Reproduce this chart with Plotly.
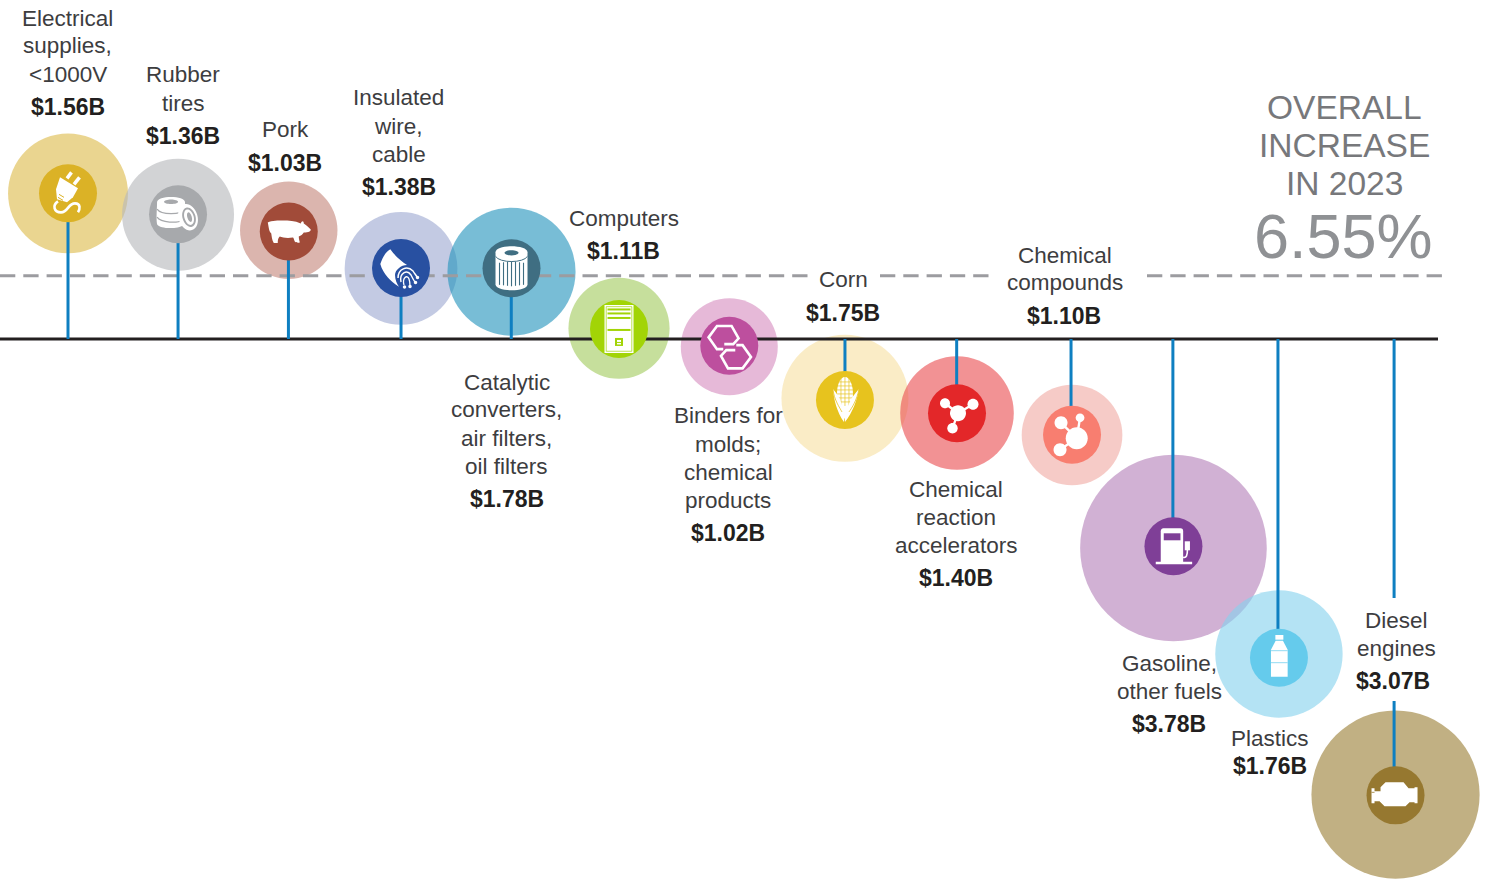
"""Bubble-on-stem chart of 2023 export increases, by product."""
import math

import plotly.graph_objects as go

# ── Data ───────────────────────────────────────────────────────────────────
products = [
    ["Electrical", "supplies,", "<1000V"],
    ["Rubber", "tires"],
    ["Pork"],
    ["Insulated", "wire,", "cable"],
    ["Catalytic", "converters,", "air filters,", "oil filters"],
    ["Computers"],
    ["Binders for", "molds;", "chemical", "products"],
    ["Corn"],
    ["Chemical", "reaction", "accelerators"],
    ["Chemical", "compounds"],
    ["Gasoline,", "other fuels"],
    ["Plastics"],
    ["Diesel", "engines"],
]
value_billions = [1.56, 1.36, 1.03, 1.38, 1.78, 1.11, 1.02, 1.75, 1.40, 1.10, 3.78, 1.76, 3.07]
slot = [0, 0.995, 1.996, 3.011, 4.010, 4.982, 5.979, 7.025, 8.038, 9.078, 9.995, 10.949, 12.003]
stem_slot = [0, 0.995, 1.993, 3.011, 4.008, 4.982, 5.979, 7.025, 8.035, 9.069, 9.99, 10.94, 11.99]
pct_change = [15.08, 12.92, 11.13, 7.35, 7.32, 1.04, -0.69, -6.31, -7.68, -9.92, -21.46, -32.99, -47.24]
bubble_pct = [15.08, 12.87, 11.25, 7.30, 6.97, 1.11, -0.81, -6.14, -7.66, -9.94, -21.64, -32.61, -47.16]
overall_pct = 6.55

# ── Styles ─────────────────────────────────────────────────────────────────
W, H = 1488, 880
PX_PER_SLOT = 110.6
PX_PER_PCT = 9.66
ZERO_LEFT = 68
ZERO_TOP = 339

HALO = ["#EAD590", "#D2D3D5", "#DBB5AE", "#C3CAE3", "#78BDD6", "#C6DF9C", "#E6B9D8",
        "#FAECC6", "#F29294", "#F6CBC7", "#D1B1D4", "#B4E3F4", "#C1B083"]
CORE = ["#DBB226", "#A7A9AC", "#A14B39", "#2850A1", "#3F6E82", "#A2D406", "#BD4F9E",
        "#E7C31E", "#E32729", "#F87E70", "#7F3F97", "#65CBEC", "#967830"]
HALO_ALPHA = 0.62
STEM = "#0E7FC1"
DASH = "#9C9CA0"
INK = "#231F20"
TEXT = "#3D3D3F"
FONT = "Liberation Sans"

# (centre x, first line y) of each product label, in page pixels
LABEL_AT = [(67.5, 18), (183, 75), (285, 130), (398.5, 98), (507, 382), (623.5, 218), (728, 416),
            (843, 280), (956, 489), (1064.5, 255), (1169, 663), (1270, 738), (1396, 620)]
VALUE_X_NUDGE = [0, 0, 0, 0, 0, 0, 0, 0, 0, -0.5, 0, 0, -3]
LINE_GAP = 28
VALUE_GAP = [33, 33, 33, 33, 33, 33, 33, 33, 33, 33, 33, 28, 33]


def x_of(px):
    return (px - ZERO_LEFT) / PX_PER_SLOT


def y_of(px):
    return (ZERO_TOP - px) / PX_PER_PCT


def see_through(hex_color):
    """Colour that looks like hex_color on white when drawn at HALO_ALPHA."""
    rgb = [int(hex_color[i:i + 2], 16) for i in (1, 3, 5)]
    src = [max(0, round(255 - (255 - c) / HALO_ALPHA)) for c in rgb]
    return f"rgba({src[0]},{src[1]},{src[2]},{HALO_ALPHA})"


# ── Icon drawing helpers (local pixels, y pointing down) ───────────────────
def poly(*pts, close=True):
    d = "M" + " L".join(f"{x:.2f},{-y:.2f}" for x, y in pts)
    return d + (" Z" if close else "")


def curve(start, *segs, close=False):
    d = f"M{start[0]:.2f},{-start[1]:.2f}"
    for s in segs:
        d += " C" + " ".join(f"{x:.2f},{-y:.2f}" for x, y in s)
    return d + (" Z" if close else "")


def ellipse(cx, cy, rx, ry=None, deg=0):
    ry = rx if ry is None else ry
    k = 0.5523
    a = math.radians(deg)

    def rot(x, y):
        return (cx + x * math.cos(a) - y * math.sin(a), cy + x * math.sin(a) + y * math.cos(a))

    return curve(
        rot(rx, 0),
        [rot(rx, k * ry), rot(k * rx, ry), rot(0, ry)],
        [rot(-k * rx, ry), rot(-rx, k * ry), rot(-rx, 0)],
        [rot(-rx, -k * ry), rot(-k * rx, -ry), rot(0, -ry)],
        [rot(k * rx, -ry), rot(rx, -k * ry), rot(rx, 0)],
        close=True,
    )


def rect(x0, y0, x1, y1):
    return poly((x0, y0), (x1, y0), (x1, y1), (x0, y1))


# Each icon: list of (kind, path, colour key, stroke width); "core" paints with the disc colour
ICONS = [
    # plug
    [("fill", poly((-8, -16), (10, -5), (5, 4), (-1, 9), (-11, 6), (-12, -4)), "white", 0),
     ("line", poly((-1, -15), (3.5, -21), close=False), "white", 3.5),
     ("line", poly((6, -9), (11.5, -16), close=False), "white", 3.5),
     ("line", poly((-9, 1), (-4, 4), close=False), "core", 1),
     ("line", poly((-10, 4), (-5, 7), close=False), "core", 1),
     ("line", curve((-10, 8), [(-16, 12), (-14, 19), (-7, 19)], [(0, 19), (0, 10), (7, 10)],
                    [(13, 10), (12, 16), (10, 19)]), "white", 2.6)],
    # tires
    [("fill", curve((-21, -12), [(-21, -19), (7, -19), (7, -12)], [(7, -6), (7, 6), (5, 11)],
                    [(0, 15), (-18, 15), (-21, 10)], [(-22, 4), (-21, -6), (-21, -12)], close=True), "white", 0),
     ("line", curve((-21, -5), [(-17, 1), (3, 1), (7, -5)]), "core", 1.2),
     ("line", curve((-21, 3), [(-17, 9), (0, 9), (4, 6)]), "core", 1.2),
     ("fill", ellipse(-7, -12.5, 7, 2.3), "core", 0),
     ("fill", ellipse(10, 3, 9.5, 13.5, -17), "white", 0),
     ("fill", ellipse(11, 3, 6.5, 10, -17), "core", 0),
     ("fill", ellipse(11, 3, 4.6, 8, -17), "white", 0),
     ("fill", ellipse(11.5, 3, 2.2, 5, -17), "core", 0)],
    # pig
    [("fill", curve((-21, -9), [(-17, -11), (-10, -11), (-6, -11)], [(0, -11), (6, -11), (12, -8)],
                    [(13, -11), (15, -11), (15, -8)], [(18, -6), (20, -4), (22, -2)],
                    [(22, 0), (20, 1), (15, 1)], [(14, 3), (12, 4), (10, 5)],
                    [(10, 8), (11, 10), (11, 11)], [(9, 11.5), (7, 11), (6, 10)],
                    [(5, 8), (5, 6), (4, 6)], [(-2, 7), (-6, 6), (-9, 5)],
                    [(-11, 7), (-11, 9), (-11, 11.5)], [(-13, 11.5), (-15, 11.5), (-15, 11.5)],
                    [(-17, 8), (-17, 5), (-17.5, 2)], [(-20, 0), (-20, -5), (-21, -9)], close=True), "white", 0)],
    # insulated wire
    [("fill", curve((-20.7, -4), [(-18, -12), (-15, -16), (-10.7, -18.7)], [(-6, -12), (0, -7), (6, -3)],
                    [(0, -3), (-6, 2), (-6, 7)], [(-6, 12), (-4, 16), (-2, 18.7)],
                    [(-10, 14), (-18, 6), (-20.7, -4)], close=True), "white", 0),
     ("line", curve((-3, 10), [(-3, 1), (6, -3), (12, 3)], [(13, 5), (15, 7), (16, 9)]), "white", 1.5),
     ("line", curve((0, 14), [(-2, 5), (6, 1), (10, 7)], [(11, 9), (13, 13), (14, 14)]), "white", 1.4),
     ("line", curve((3, 17), [(1, 10), (6, 6), (8, 11)], [(9, 14), (9, 16), (9, 18)]), "white", 1.3),
     ("fill", ellipse(16.5, 9.5, 1.7), "white", 0),
     ("fill", ellipse(14.5, 14.5, 1.7), "white", 0),
     ("fill", ellipse(9, 18.5, 1.7), "white", 0),
     ("fill", ellipse(3.5, 19, 1.7), "white", 0)],
    # filter
    [("fill", curve((-16, -16), [(-16, -24), (16, -24), (16, -16)], [(16, -8), (16, 8), (16, 16)],
                    [(16, 24), (-16, 24), (-16, 16)], [(-16, 8), (-16, -8), (-16, -16)], close=True), "white", 0),
     ("fill", ellipse(0, -15.5, 7, 2.6), "core", 0),
     ("line", curve((-16, -12), [(-12, -5), (12, -5), (16, -12)]), "core", 1)]
    + [("line", poly((x, -7 + abs(x) * 0.12), (x, 18 - abs(x) * 0.12), close=False), "core", 1.1)
       for x in (-12, -8, -4, 0, 4, 8, 12)],
    # computer tower
    [("fill", rect(-14.5, -24, 14.5, 24), "white", 0),
     ("line", rect(-12.8, -22.3, 12.8, 22.3), "core", 0.7),
     ("fill", rect(-11.5, -20.5, 11.5, -18.5), "core", 0),
     ("fill", rect(-11.5, -16.5, 11.5, -14.5), "core", 0),
     ("fill", rect(-11.5, -12, 11.5, -10), "core", 0),
     ("fill", rect(-11.5, 0, 11.5, 2), "core", 0),
     ("fill", rect(-4, 9, 4, 17), "core", 0),
     ("fill", rect(-2, 11, 2, 13), "white", 0),
     ("fill", rect(-2, 14, 2, 15.5), "white", 0)],
    # linked hexagons
    [("line", poly((-6, 3.5), (-12.3, 3.5), (-20.7, -8.3), (-12.3, -19.7), (2.3, -19.7), (9.3, -7.3),
                   (4, -1.5), (-5, -1.5), close=False), "white", 2.6),
     ("line", poly((7, -0.5), (13.3, -0.5), (21.7, 11.3), (13.3, 22.7), (-1.3, 22.7), (-8.3, 10.3),
                   (-3, 4.5), (6, 4.5), close=False), "white", 2.6)],
    # corn
    [("fill", curve((0, -23), [(5, -23), (8, -15), (8, -6)], [(8, 2), (5, 14), (0, 19)],
                    [(-5, 14), (-8, 2), (-8, -6)], [(-8, -15), (-5, -23), (0, -23)], close=True), "white", 0)]
    + [("line", poly((-8, y), (8, y), close=False), "core", 0.7) for y in (-18, -14, -10, -6, -2, 2)]
    + [("line", poly((x, -23), (x, 6), close=False), "core", 0.7) for x in (-4, 0, 4)]
    + [("fill", curve((-12, -11), [(-11, 0), (-8, 12), (-1, 22)], [(0, 14), (-2, 8), (-4, 2)],
                      [(-5, -2), (-8, -6), (-12, -11)], close=True), "white", 0),
       ("fill", curve((14, -11), [(12, 0), (8, 12), (0, 22)], [(-1, 14), (2, 8), (5, 2)],
                      [(6, -2), (10, -6), (14, -11)], close=True), "white", 0),
       ("line", curve((-12, -11), [(-11, 0), (-5, 8), (-3, 12)]), "core", 0.8),
       ("line", curve((14, -11), [(12, 0), (7, 8), (4, 12)]), "core", 0.8)],
    # molecule
    [("line", poly((1, 0), (-12, -10), close=False), "white", 2.4),
     ("line", poly((1, 0), (16, -9), close=False), "white", 2.4),
     ("line", poly((1, 0), (-4.5, 15), close=False), "white", 2.4),
     ("fill", ellipse(1, 0, 8), "white", 0),
     ("fill", ellipse(-12, -10, 5), "white", 0),
     ("fill", ellipse(16, -9, 5.5), "white", 0),
     ("fill", ellipse(-4.5, 15, 5.2), "white", 0)],
    # molecule, second form
    [("line", poly((4.7, 3.3), (-11, -12), close=False), "white", 2.4),
     ("line", poly((4.7, 3.3), (8, -17), close=False), "white", 2.4),
     ("line", poly((4.7, 3.3), (-12, 15), close=False), "white", 2.4),
     ("fill", ellipse(4.7, 3.3, 11), "white", 0),
     ("fill", ellipse(-11, -12, 6.5), "white", 0),
     ("fill", ellipse(8, -17, 4.4), "white", 0),
     ("fill", ellipse(-12, 15, 6.5), "white", 0)],
    # fuel pump
    [("fill", curve((-12.7, -15), [(-12.7, -17), (-11.5, -18), (-10, -18)], [(-4, -18), (4, -18), (7, -18)],
                    [(9, -18), (9.7, -17), (9.7, -15)], [(9.7, -5), (9.7, 5), (9.7, 16)],
                    [(2, 16), (-5, 16), (-12.7, 16)], [(-12.7, 5), (-12.7, -5), (-12.7, -15)], close=True), "white", 0),
     ("fill", rect(-9.7, -13, 7, -6), "core", 0),
     ("fill", rect(-17.7, 15.5, 18.7, 18), "white", 0),
     ("fill", rect(11.3, -5, 16.5, 4), "white", 0),
     ("line", curve((9.7, 11), [(13, 12), (14, 9), (14, 3)]), "white", 1.6)],
    # bottle
    [("fill", rect(-3.6, -22.7, 4.4, -18), "white", 0),
     ("fill", poly((-3.3, -17), (4, -17), (8.7, -8), (8.7, 19), (-8, 19), (-8, -8)), "white", 0),
     ("line", poly((-8, -7), (8.7, -7), close=False), "core", 0.7),
     ("line", poly((-8, 5), (8.7, 5), close=False), "core", 0.7)],
    # engine
    [("fill", poly((-24, -7), (-21, -7), (-21, -4), (-15, -4), (-15, -8), (-10, -13), (8, -13), (13, -7),
                   (19, -7), (19, -8), (22, -8), (22, 8), (19, 8), (19, 7), (14, 7), (10, 11), (-11, 11),
                   (-16, 6), (-21, 6), (-21, 8), (-24, 8)), "white", 0),
     ("line", poly((-24, -3), (-21, -3), close=False), "core", 0.8)],
]


def icon_shapes(i):
    out = []
    for kind, path, color_key, width in ICONS[i]:
        color = CORE[i] if color_key == "core" else "#FFFFFF"
        shape = dict(
            type="path", path=path, layer="above",
            xref="x", yref="y", xsizemode="pixel", ysizemode="pixel",
            xanchor=slot[i], yanchor=pct_change[i],
        )
        if kind == "fill":
            shape.update(fillcolor=color, line=dict(width=0))
        else:
            shape.update(fillcolor="rgba(0,0,0,0)", line=dict(color=color, width=width))
        out.append(shape)
    return out


fig = go.Figure()

# Translucent value bubbles, area proportional to the dollar value
fig.add_trace(go.Scatter(
    x=slot, y=bubble_pct, mode="markers",
    marker=dict(
        size=value_billions, sizemode="area", sizeref=1 / 4608, opacity=1,
        color=[see_through(c) for c in HALO], line=dict(width=0),
    ),
    customdata=[" ".join(p) for p in products],
    hovertemplate="%{customdata}: $%{marker.size}B<extra></extra>",
    showlegend=False,
))

# Zero line
fig.add_trace(go.Scatter(
    x=[x_of(0), x_of(1438)], y=[0, 0], mode="lines",
    line=dict(color=INK, width=3), hoverinfo="skip", showlegend=False,
))

# Overall increase, broken around the Corn and Chemical compounds labels
dash_x = [x_of(0), x_of(810), None, x_of(880), x_of(990), None, x_of(1147), x_of(1442)]
dash_y = [overall_pct, overall_pct, None, overall_pct, overall_pct, None, overall_pct, overall_pct]
fig.add_trace(go.Scatter(
    x=dash_x, y=dash_y, mode="lines",
    line=dict(color=DASH, width=3, dash="15.3px,8px"), hoverinfo="skip", showlegend=False,
))

# Stems; the last one stops around the Diesel engines label
stem_x, stem_y = [], []
for i, (x, y) in enumerate(zip(stem_slot, pct_change)):
    if i == len(slot) - 1:
        stem_x += [x, x, None, x, x, None]
        stem_y += [0, y_of(598), None, y_of(701), y, None]
    else:
        stem_x += [x, x, None]
        stem_y += [0, y, None]
fig.add_trace(go.Scatter(
    x=stem_x, y=stem_y, mode="lines",
    line=dict(color=STEM, width=3), hoverinfo="skip", showlegend=False,
))

# Icon discs
fig.add_trace(go.Scatter(
    x=slot, y=pct_change, mode="markers",
    marker=dict(size=58, color=CORE, line=dict(width=0)),
    hoverinfo="skip", showlegend=False,
))

shapes = []
for i in range(len(slot)):
    shapes += icon_shapes(i)


def put_text(text, px, py, size, color, bold=False):
    fig.add_annotation(
        text=f"<b>{text}</b>" if bold else text,
        xref="paper", yref="paper", x=px / W, y=1 - py / H,
        xanchor="center", yanchor="middle", showarrow=False,
        font=dict(family=FONT, size=size, color=color),
    )


for lines, value, (px, py), gap, nudge in zip(products, value_billions, LABEL_AT, VALUE_GAP, VALUE_X_NUDGE):
    for n, line in enumerate(lines):
        put_text(line.replace("<", "&lt;"), px, py + n * LINE_GAP, 22.5, TEXT)
    put_text(f"${value:.2f}B", px + nudge, py + (len(lines) - 1) * LINE_GAP + gap, 23, INK, bold=True)

for n, line in enumerate(["OVERALL", "INCREASE", "IN 2023"]):
    put_text(line, 1344.5, 107 + n * 38, 33.5, "#77787B")
put_text(f"{overall_pct}%", 1343, 236, 63, "#8F9194")

fig.update_layout(
    width=W, height=H, autosize=False,
    margin=dict(l=0, r=0, t=0, b=0, pad=0),
    paper_bgcolor="#FFFFFF", plot_bgcolor="#FFFFFF",
    xaxis=dict(visible=False, range=[x_of(0), x_of(W)], fixedrange=True),
    yaxis=dict(visible=False, range=[y_of(H), y_of(0)], fixedrange=True),
    shapes=shapes,
    font=dict(family=FONT),
)

fig.write_html(
    "out.html",
    config={"displayModeBar": False},
    post_script="document.body.style.margin='0';document.body.style.overflow='hidden';",
)
